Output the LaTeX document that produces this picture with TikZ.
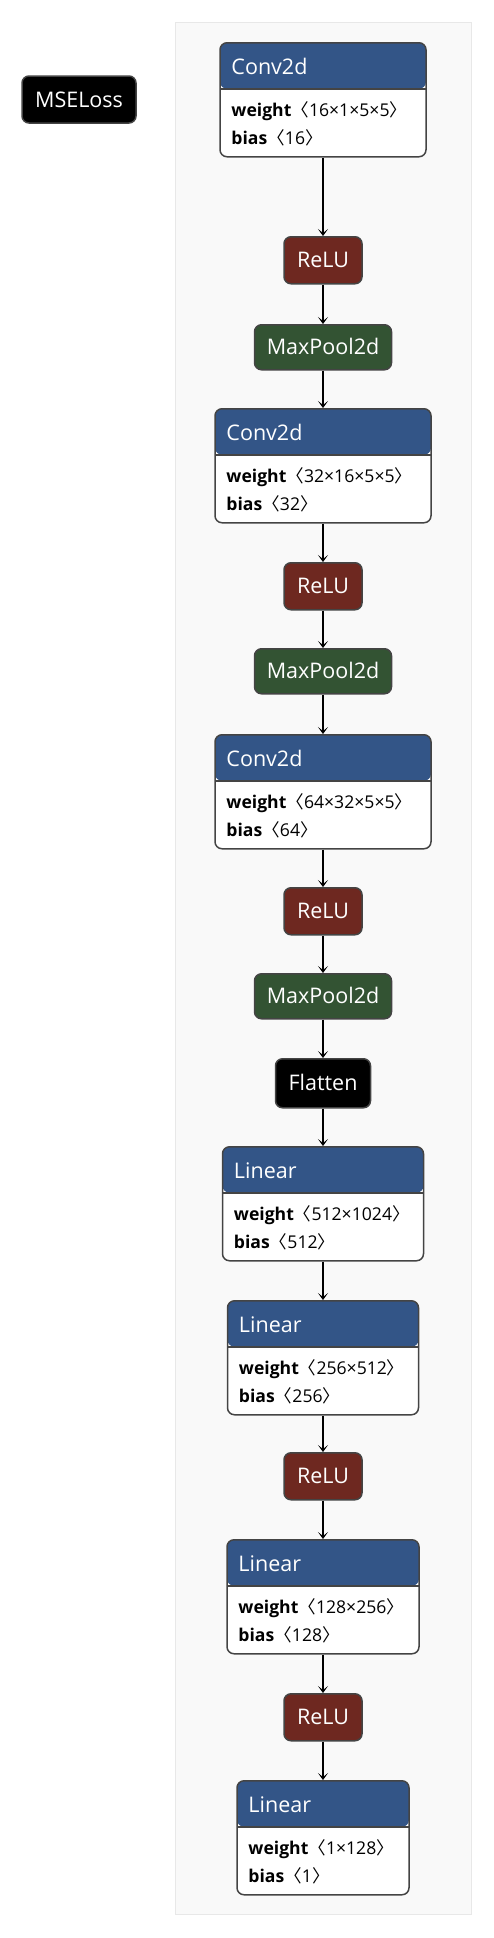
\documentclass[tikz,border=0pt]{standalone}
\usepackage{fontspec}
\setmainfont{Open Sans}
\newfontfamily\cjk{Noto Sans CJK SC}
\usetikzlibrary{arrows.meta}

\definecolor{hdrblue}{RGB}{51,85,135}
\definecolor{relured}{RGB}{110,40,32}
\definecolor{poolgreen}{RGB}{51,83,51}
\definecolor{bordercol}{RGB}{68,68,68}
\definecolor{panelfill}{RGB}{249,249,249}
\definecolor{paneledge}{RGB}{232,232,232}

% layer with parameters: name, top, width, title, weight shape, bias shape
\newcommand{\paramlayer}[6]{%
    \node[layerbox, minimum width=#3, anchor=north] (#1) at (323,#2) {};
    \node[titletext, anchor=base west] (#1-title) at ([shift={(12,32)}]#1.north west) {#4};
    \node[paramtext, anchor=base west] (#1-w) at ([shift={(12,74)}]#1.north west) {\textbf{weight}{\cjk 〈}#5{\cjk 〉}};
    \node[paramtext, anchor=base west] (#1-b) at ([shift={(12,102)}]#1.north west) {\textbf{bias}{\cjk 〈}#6{\cjk 〉}};
}

\begin{document}
\begin{tikzpicture}[x=1pt, y=-1pt,
    layerbox/.style={draw=bordercol, line width=1.5pt, fill=white, rounded corners=7pt,
        minimum height=114, inner sep=0,
        path picture={
            \fill[hdrblue] (path picture bounding box.north west) rectangle ([yshift=-46pt]path picture bounding box.north east);
            \draw[bordercol, line width=1.5pt] ([yshift=-46pt]path picture bounding box.north west) -- ([yshift=-46pt]path picture bounding box.north east);
        }},
    titletext/.style={inner sep=0, text=white, font=\fontsize{21.5}{24}\selectfont},
    paramtext/.style={inner sep=0, text=black, font=\fontsize{17.6}{20}\selectfont},
    opbox/.style={draw=bordercol, line width=1.5pt, rounded corners=7pt, inner sep=0,
        text=white, font=\fontsize{21.5}{24}\selectfont, text height=15pt, text depth=0pt,
        minimum height=47, anchor=north},
    relubox/.style={opbox, fill=relured, minimum width=78},
    poolbox/.style={opbox, fill=poolgreen, minimum width=137, minimum height=45},
    flow/.style={line width=1.6pt, -{Stealth[length=7pt, width=10pt, inset=4pt]}}]

    \useasboundingbox (0,0) rectangle (494,1938);

    % panel behind the model
    \draw[paneledge, fill=panelfill, line width=1pt] (175,22) rectangle (471,1914);

    % loss
    \node[opbox, fill=black, minimum width=114, anchor=center] (loss) at (79,99.5) {MSELoss};

    % model layers
    \paramlayer{conva}{42}{206}{Conv2d}{16×1×5×5}{16}
    \node[relubox] (relua) at (323,236) {ReLU};
    \node[poolbox] (poola) at (323,324) {MaxPool2d};
    \paramlayer{convb}{408}{216}{Conv2d}{32×16×5×5}{32}
    \node[relubox] (relub) at (323,562) {ReLU};
    \node[poolbox] (poolb) at (323,648) {MaxPool2d};
    \paramlayer{convc}{734}{216}{Conv2d}{64×32×5×5}{64}
    \node[relubox] (reluc) at (323,887) {ReLU};
    \node[poolbox] (poolc) at (323,973) {MaxPool2d};
    \node[opbox, fill=black, minimum width=95, minimum height=49] (flat) at (323,1058) {Flatten};
    \paramlayer{lina}{1146}{201}{Linear}{512×1024}{512}
    \paramlayer{linb}{1300}{191}{Linear}{256×512}{256}
    \node[relubox] (relud) at (323,1452) {ReLU};
    \paramlayer{linc}{1539}{192}{Linear}{128×256}{128}
    \node[relubox] (relue) at (323,1693) {ReLU};
    \paramlayer{lind}{1780}{172}{Linear}{1×128}{1}

    % connections
    \draw[flow] (conva) -- (relua);
    \draw[flow] (relua) -- (poola);
    \draw[flow] (poola) -- (convb);
    \draw[flow] (convb) -- (relub);
    \draw[flow] (relub) -- (poolb);
    \draw[flow] (poolb) -- (convc);
    \draw[flow] (convc) -- (reluc);
    \draw[flow] (reluc) -- (poolc);
    \draw[flow] (poolc) -- (flat);
    \draw[flow] (flat) -- (lina);
    \draw[flow] (lina) -- (linb);
    \draw[flow] (linb) -- (relud);
    \draw[flow] (relud) -- (linc);
    \draw[flow] (linc) -- (relue);
    \draw[flow] (relue) -- (lind);
\end{tikzpicture}
\end{document}
